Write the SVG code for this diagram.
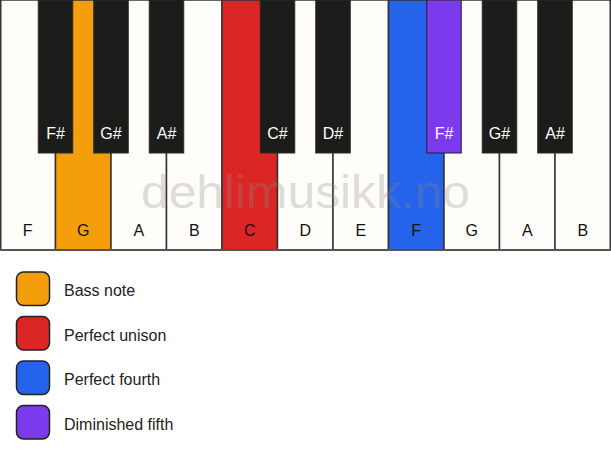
<svg xmlns="http://www.w3.org/2000/svg" width="611" height="461" viewBox="0 0 611 461">
<style>
.w{fill:#fffdf9;stroke:#333;stroke-width:1.5}
.b{fill:#1c1c1a;stroke:#2a2a2a;stroke-width:1}
.wl{font-family:"Liberation Sans",Arial,sans-serif;font-size:16px;fill:#111;text-anchor:middle}
.bl{font-family:"Liberation Sans",Arial,sans-serif;font-size:16px;fill:#fff;text-anchor:middle}
.lg{font-family:"Liberation Sans",Arial,sans-serif;font-size:16px;fill:#222}
.sw{stroke:#222;stroke-width:1.5}
</style>
<rect x="0" y="0" width="611" height="461" fill="#ffffff"/>
<g id="white-keys">
<g id="key-F1"><rect class="w" x="0.75" y="0" width="54.75" height="250"/><text class="wl" x="27.75" y="235.5">F</text></g>
<g id="key-G1"><rect class="w" x="55.5" y="0" width="55.5" height="250" style="fill:#f59e0b"/><text class="wl" x="83.25" y="235.5">G</text></g>
<g id="key-A1"><rect class="w" x="111" y="0" width="55.5" height="250"/><text class="wl" x="138.75" y="235.5">A</text></g>
<g id="key-B1"><rect class="w" x="166.5" y="0" width="55.5" height="250"/><text class="wl" x="194.25" y="235.5">B</text></g>
<g id="key-C"><rect class="w" x="222" y="0" width="55.5" height="250" style="fill:#dc2626"/><text class="wl" x="249.75" y="235.5">C</text></g>
<g id="key-D"><rect class="w" x="277.5" y="0" width="55.5" height="250"/><text class="wl" x="305.25" y="235.5">D</text></g>
<g id="key-E"><rect class="w" x="333" y="0" width="55.5" height="250"/><text class="wl" x="360.75" y="235.5">E</text></g>
<g id="key-F2"><rect class="w" x="388.5" y="0" width="55.5" height="250" style="fill:#2563eb"/><text class="wl" x="416.25" y="235.5">F</text></g>
<g id="key-G2"><rect class="w" x="444" y="0" width="55.5" height="250"/><text class="wl" x="471.75" y="235.5">G</text></g>
<g id="key-A2"><rect class="w" x="499.5" y="0" width="55.5" height="250"/><text class="wl" x="527.25" y="235.5">A</text></g>
<g id="key-B2"><rect class="w" x="555" y="0" width="55.25" height="250"/><text class="wl" x="582.75" y="235.5">B</text></g>
</g>
<text id="watermark" x="305.5" y="208" font-family="Liberation Sans,Arial,sans-serif" font-size="46" fill="#8a8a8a" fill-opacity="0.3" text-anchor="middle" textLength="329" lengthAdjust="spacingAndGlyphs">dehlimusikk.no</text>
<g id="black-keys">
<g id="key-Fs1"><rect class="b" x="38.25" y="0" width="34.5" height="153"/><text class="bl" x="55.5" y="138.5">F#</text></g>
<g id="key-Gs1"><rect class="b" x="93.75" y="0" width="34.5" height="153"/><text class="bl" x="111" y="138.5">G#</text></g>
<g id="key-As1"><rect class="b" x="149.25" y="0" width="34.5" height="153"/><text class="bl" x="166.5" y="138.5">A#</text></g>
<g id="key-Cs"><rect class="b" x="260.25" y="0" width="34.5" height="153"/><text class="bl" x="277.5" y="138.5">C#</text></g>
<g id="key-Ds"><rect class="b" x="315.75" y="0" width="34.5" height="153"/><text class="bl" x="333" y="138.5">D#</text></g>
<g id="key-Fs2"><rect class="b" x="426.75" y="0" width="34.5" height="153" style="fill:#7c3aed;stroke:#222"/><text class="bl" x="444" y="138.5">F#</text></g>
<g id="key-Gs2"><rect class="b" x="482.25" y="0" width="34.5" height="153"/><text class="bl" x="499.5" y="138.5">G#</text></g>
<g id="key-As2"><rect class="b" x="537.75" y="0" width="34.5" height="153"/><text class="bl" x="555" y="138.5">A#</text></g>
</g>
<line x1="0" y1="250" x2="611" y2="250" stroke="#555" stroke-width="2"/>
<g id="legend">
<g id="legend-bass"><rect class="sw" x="16.5" y="272" width="33" height="33.5" rx="7" fill="#f59e0b"/><text class="lg" x="64" y="296">Bass note</text></g>
<g id="legend-unison"><rect class="sw" x="16.5" y="316.5" width="33" height="33.5" rx="7" fill="#dc2626"/><text class="lg" x="64" y="340.5">Perfect unison</text></g>
<g id="legend-fourth"><rect class="sw" x="16.5" y="361" width="33" height="33.5" rx="7" fill="#2563eb"/><text class="lg" x="64" y="385">Perfect fourth</text></g>
<g id="legend-dim5"><rect class="sw" x="16.5" y="405.5" width="33" height="33.5" rx="7" fill="#7c3aed"/><text class="lg" x="64" y="429.5">Diminished fifth</text></g>
</g>
<g id="connectors"></g>
</svg>
